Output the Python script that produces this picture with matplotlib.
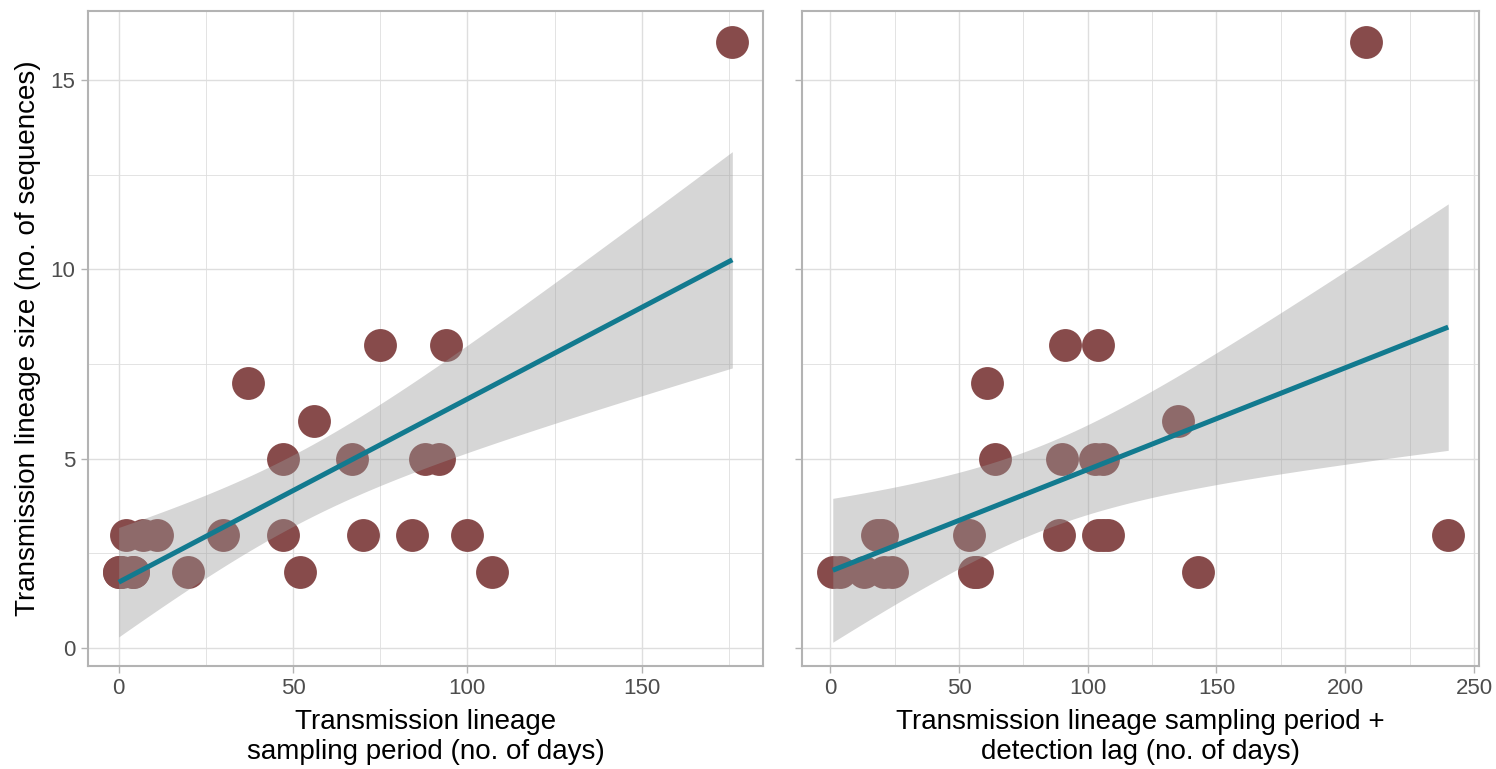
import numpy as np
import matplotlib
matplotlib.use("Agg")
import matplotlib.pyplot as plt
from matplotlib.ticker import MultipleLocator

plt.rcParams['font.family'] = ['Liberation Sans', 'DejaVu Sans']

# lineage size (no. of sequences), same lineages in both panels
lineage_size = [16, 8, 8, 7, 6, 5, 5, 5, 5,
                3, 3, 3, 3, 3, 3, 3, 3,
                2, 2, 2, 2, 2, 2, 2, 2]
period_days = [176, 75, 94, 37, 56, 47, 67, 88, 92,
               2, 7, 11, 30, 47, 70, 84, 100,
               0, 0, 1, 4, 4, 20, 52, 107]
period_lag_days = [208, 91, 104, 61, 135, 64, 90, 103, 106,
                   18, 20, 54, 89, 104, 106, 108, 240,
                   1, 4, 13, 21, 24, 56, 57, 143]

xlabels = ["Transmission lineage\nsampling period (no. of days)",
           "Transmission lineage sampling period +\ndetection lag (no. of days)"]
ylabel = "Transmission lineage size (no. of sequences)"

POINT = "#874B4B"
LINE = "#127A8F"
RIBBON = "#999999"
BORDER = "#B3B3B3"
GRID = "#DEDEDE"

T975 = {20: 2.086, 21: 2.080, 22: 2.074, 23: 2.069, 24: 2.064}


def lm_band(x, y):
    x = np.asarray(x, float)
    y = np.asarray(y, float)
    n = len(x)
    b, a = np.polyfit(x, y, 1)
    resid = y - (a + b * x)
    s = np.sqrt(np.sum(resid ** 2) / (n - 2))
    xs = np.linspace(x.min(), x.max(), 80)
    fit = a + b * xs
    se = s * np.sqrt(1 / n + (xs - x.mean()) ** 2 / np.sum((x - x.mean()) ** 2))
    t = T975.get(n - 2, 2.07)
    return xs, fit, fit - t * se, fit + t * se


fig = plt.figure(figsize=(14.96, 7.69), dpi=100)
W, H = 1496, 769
ax1 = fig.add_axes([88 / W, 1 - 666 / H, (763 - 88) / W, (666 - 11) / H])
ax2 = fig.add_axes([802 / W, 1 - 666 / H, (1479 - 802) / W, (666 - 11) / H])

bands = [lm_band(period_days, lineage_size), lm_band(period_lag_days, lineage_size)]

for ax, x, band, xl in [(ax1, period_days, bands[0], xlabels[0]),
                        (ax2, period_lag_days, bands[1], xlabels[1])]:
    xs, fit, lo, hi = band
    ax.scatter(x, lineage_size, s=560, color=POINT, linewidths=0, zorder=3)
    ax.fill_between(xs, lo, hi, color=RIBBON, alpha=0.4, linewidth=0, zorder=4)
    ax.plot(xs, fit, color=LINE, lw=3.6, zorder=5, solid_capstyle='butt')

    xmin, xmax = min(x), max(x)
    xpad = (xmax - xmin) * 0.05
    ax.set_xlim(xmin - xpad, xmax + xpad)
    ax.set_ylim(-0.47, 16.82)

    ax.xaxis.set_major_locator(MultipleLocator(50))
    ax.xaxis.set_minor_locator(MultipleLocator(25))
    ax.yaxis.set_major_locator(MultipleLocator(5))
    ax.yaxis.set_minor_locator(MultipleLocator(2.5))
    ax.grid(which='major', color=GRID, lw=1.0, zorder=0)
    ax.grid(which='minor', color=GRID, lw=0.6, zorder=0)
    ax.set_axisbelow(True)
    for sp in ax.spines.values():
        sp.set_color(BORDER)
        sp.set_linewidth(1.5)
    ax.tick_params(which='major', length=5, width=1.0, color=BORDER,
                   labelsize=16, labelcolor="#4D4D4D", pad=4)
    ax.tick_params(which='minor', length=0)
    ax.set_xlabel(xl, fontsize=20, labelpad=7, linespacing=1.2)

ax1.set_ylabel(ylabel, fontsize=20, labelpad=7)
ax2.tick_params(axis='y', labelleft=False)

fig.savefig("out.png", dpi=100)
